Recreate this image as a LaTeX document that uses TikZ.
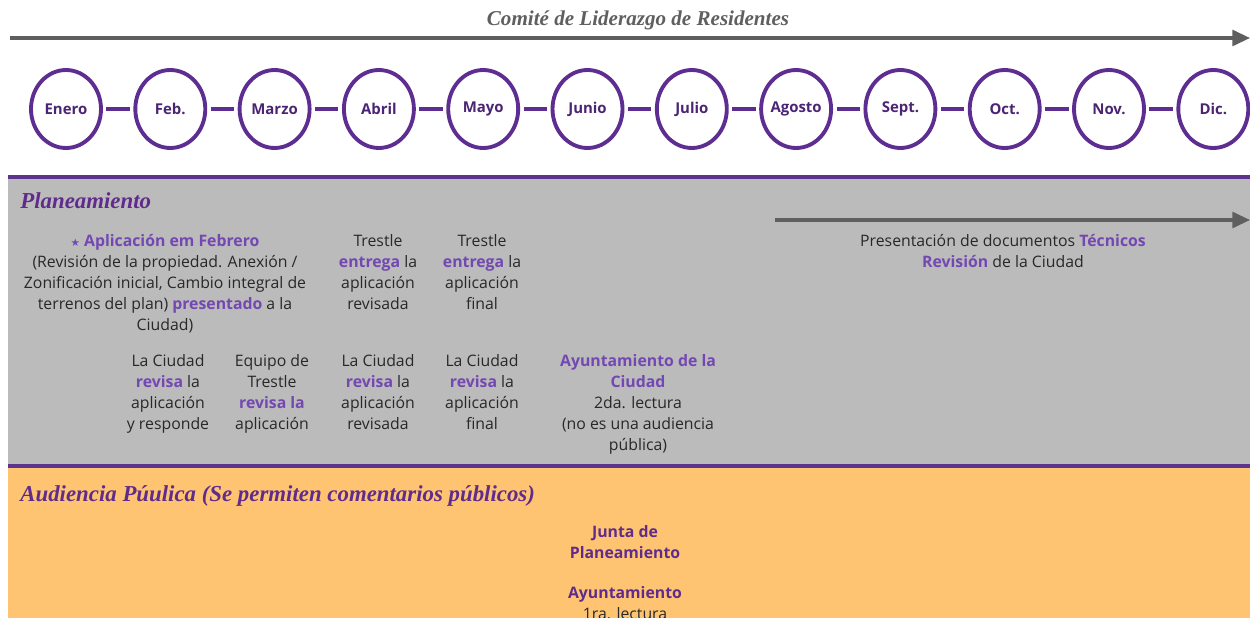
\documentclass[tikz,border=0pt]{standalone}
\usepackage{fontspec}
\setmainfont{Open Sans}
\newfontfamily\headfont{Liberation Serif}
\newfontfamily\symfont{DejaVu Sans}
\usepackage{xcolor}
\usetikzlibrary{shapes.geometric,arrows.meta}
\definecolor{ringpurple}{RGB}{94,45,145}
\definecolor{hlpurple}{RGB}{115,72,178}
\definecolor{deeppurple}{RGB}{96,44,140}
\definecolor{linepurple}{RGB}{92,52,140}
\definecolor{panelgray}{RGB}{187,187,187}
\definecolor{panelorange}{RGB}{255,196,114}
\definecolor{bodygray}{RGB}{40,40,40}
\definecolor{arrowgray}{RGB}{95,95,95}
\newcommand{\hilite}[1]{\textcolor{hlpurple}{\textbf{#1}}}

\begin{document}
\begin{tikzpicture}[x=0.02cm,y=-0.02cm,
  month/.style={ellipse, draw=ringpurple, line width=2.2pt, fill=white, inner sep=0pt,
    minimum width=1.4cm, minimum height=1.56cm},
  every label/.style={font=\fontsize{8.5}{10}\selectfont\bfseries, text=ringpurple!80!black},
  link/.style={ringpurple, line width=2.8pt, shorten <=2pt, shorten >=2pt},
  timearrow/.style={arrowgray, line width=1.8pt, -{Triangle[length=10pt,width=9pt]}},
  body/.style={align=center, font=\fontsize{9}{11.9}\selectfont, text=bodygray, inner sep=0pt, anchor=north},
  heading/.style={font=\headfont\fontsize{13}{15}\selectfont\bfseries\itshape, text=deeppurple, anchor=west, inner sep=0pt},
  band/.style={linepurple, line width=2.3pt}]
  \useasboundingbox (0,0) rectangle (1250,618);
  \fill[white] (0,0) rectangle (1250,618);

  % Panels
  \fill[panelgray] (8,177) rectangle (1250,466);
  \fill[panelorange] (8,466) rectangle (1250,618);
  \coordinate (bandA) at (8,177);
  \coordinate (bandA') at (1250,177);
  \coordinate (bandB) at (8,466);
  \coordinate (bandB') at (1250,466);
  \draw[band] (bandA) -- (bandA');
  \draw[band] (bandB) -- (bandB');

  % Committee arrow
  \node[font=\headfont\fontsize{12}{14}\selectfont\bfseries\itshape, text=arrowgray] (comite) at (638,20) {Comité de Liderazgo de Residentes};
  \coordinate (top0) at (10,38);
  \coordinate (top1) at (1250,38);
  \draw[timearrow] (top0) -- (top1);

  % Months
  \node[month, label=center:Enero]  (m1)  at (66,109) {};
  \node[month, label=center:Feb.]   (m2)  at (170.3,109) {};
  \node[month, label=center:Marzo]  (m3)  at (274.6,109) {};
  \node[month, label=center:Abril]  (m4)  at (378.9,109) {};
  \node[month, label=center:Mayo]   (m5)  at (483.2,109) {};
  \node[month, label=center:Junio]  (m6)  at (587.5,109) {};
  \node[month, label=center:Julio]  (m7)  at (691.8,109) {};
  \node[month, label=center:Agosto] (m8)  at (796.1,109) {};
  \node[month, label=center:Sept.]  (m9)  at (900.4,109) {};
  \node[month, label=center:Oct.]   (m10) at (1004.7,109) {};
  \node[month, label=center:Nov.]   (m11) at (1109,109) {};
  \node[month, label=center:Dic.]   (m12) at (1213.3,109) {};

  \draw[link] (m1) -- (m2);
  \draw[link] (m2) -- (m3);
  \draw[link] (m3) -- (m4);
  \draw[link] (m4) -- (m5);
  \draw[link] (m5) -- (m6);
  \draw[link] (m6) -- (m7);
  \draw[link] (m7) -- (m8);
  \draw[link] (m8) -- (m9);
  \draw[link] (m9) -- (m10);
  \draw[link] (m10) -- (m11);
  \draw[link] (m11) -- (m12);

  % Planeamiento
  \node[heading] (planea) at (20,201) {Planeamiento};
  \coordinate (tec0) at (775,220);
  \coordinate (tec1) at (1250,220);
  \draw[timearrow] (tec0) -- (tec1);
  \node[body] (tecnicos) at (1003,234) {Presentación de documentos \hilite{Técnicos}\\ \hilite{Revisión} de la Ciudad};

  \node[body] (aplic) at (165,234) {\textcolor{hlpurple}{\symfont\fontsize{6}{6}\selectfont ★} \hilite{Aplicación em Febrero}\\ (Revisión de la propiedad. Anexión /\\ Zonificación inicial, Cambio integral de\\ terrenos del plan) \hilite{presentado} a la\\ Ciudad)};
  \node[body] (entrega1) at (378,234) {Trestle\\ \hilite{entrega} la\\ aplicación\\ revisada};
  \node[body] (entrega2) at (482,234) {Trestle\\ \hilite{entrega} la\\ aplicación\\ final};

  \node[body] (revisa1) at (168,354) {La Ciudad\\ \hilite{revisa} la\\ aplicación\\ y responde};
  \node[body] (equipo) at (272,354) {Equipo de\\ Trestle\\ \hilite{revisa la}\\ aplicación};
  \node[body] (revisa2) at (378,354) {La Ciudad\\ \hilite{revisa} la\\ aplicación\\ revisada};
  \node[body] (revisa3) at (482,354) {La Ciudad\\ \hilite{revisa} la\\ aplicación\\ final};
  \node[body] (ayunt2) at (638,354) {\hilite{Ayuntamiento de la}\\ \hilite{Ciudad}\\ 2da. lectura\\ (no es una audiencia\\ pública)};

  % Audiencia
  \node[heading] (audiencia) at (20,496) {Audiencia Púulica (Se permiten comentarios públicos)};
  \node[body, text=deeppurple, font=\fontsize{9}{11.9}\selectfont\bfseries] (junta) at (625,525) {Junta de\\ Planeamiento};
  \node[body] (ayunt1) at (625,586) {\textcolor{deeppurple}{\textbf{Ayuntamiento}}\\ 1ra. lectura};
\end{tikzpicture}
\end{document}
